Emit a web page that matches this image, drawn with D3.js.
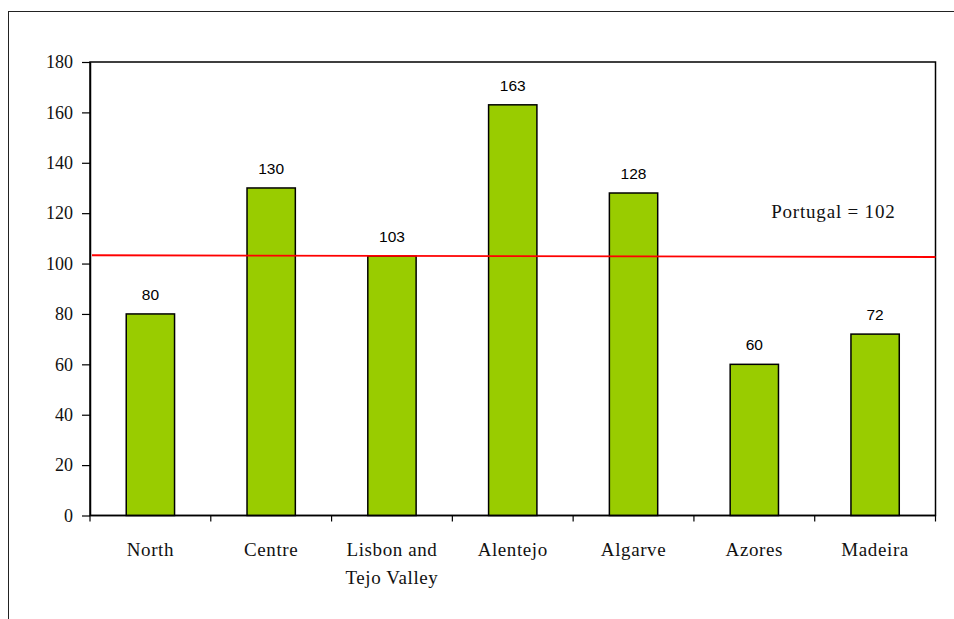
<!DOCTYPE html>
<html>
<head>
<meta charset="utf-8">
<script src="https://cdn.jsdelivr.net/npm/d3@7"></script>
<style>
  body { margin: 0; background: #fff; }
  svg { display: block; }
</style>
</head>
<body>
<div id="chart"></div>
<script>
var regions = ["North", "Centre", "Lisbon and\nTejo Valley", "Alentejo", "Algarve", "Azores", "Madeira"]
var values = [80, 130, 103, 163, 128, 60, 72]
var yTicks = [0, 20, 40, 60, 80, 100, 120, 140, 160, 180]
// the national line is drawn slightly tilted in the original
var portugalLine = [103.3, 102.6]
var portugalLabel = "Portugal = 102"

var W = 954, H = 619
var margin = {left: 90, right: 18.5, top: 62, bottom: 103.5}
var width = W - margin.left - margin.right
var height = H - margin.top - margin.bottom
var serif = "'Liberation Serif', 'Times New Roman', serif"

var svg = d3.select("#chart").append("svg")
    .attr("width", W)
    .attr("height", H)

// outer frame
svg.append("rect")
    .attr("x", 8.5).attr("y", 11.5)
    .attr("width", W).attr("height", H)
    .attr("fill", "none")
    .attr("stroke", "#222")
    .attr("stroke-width", 1)

var g = svg.append("g")
    .attr("transform", "translate(" + margin.left + "," + margin.top + ")")

var x = d3.scaleBand().domain(regions).range([0, width])
var y = d3.scaleLinear().domain([0, 180]).range([height, 0])

var barW = x.bandwidth() * 0.4

// plot frame
g.append("rect")
    .attr("width", width).attr("height", height)
    .attr("fill", "none")
    .attr("stroke", "#000")
    .attr("stroke-width", 1.5)

// bars
g.selectAll(".bar")
    .data(values)
    .enter().append("rect")
    .attr("class", "bar")
    .attr("x", function(d, i) { return x(regions[i]) + (x.bandwidth() - barW) / 2 })
    .attr("y", function(d) { return y(d) })
    .attr("width", barW)
    .attr("height", function(d) { return height - y(d) })
    .attr("fill", "#99cc00")
    .attr("stroke", "#000")
    .attr("stroke-width", 1.5)

// value labels
g.selectAll(".val")
    .data(values)
    .enter().append("text")
    .attr("class", "val")
    .attr("x", function(d, i) { return x(regions[i]) + x.bandwidth() / 2 })
    .attr("y", function(d) { return y(d) - 14 })
    .attr("text-anchor", "middle")
    .attr("fill", "#000")
    .style("font-family", "'Liberation Sans', Arial, sans-serif")
    .style("font-size", "15.5px")
    .text(function(d) { return d })

// y axis
var yAxis = g.append("g")
    .call(d3.axisLeft(y).tickValues(yTicks).tickSize(8).tickSizeOuter(0).tickPadding(9))
yAxis.select(".domain").attr("stroke-width", 1.5)
yAxis.selectAll(".tick line").attr("stroke-width", 1.2)
yAxis.selectAll("text")
    .style("font-family", serif)
    .style("font-size", "18px")
    .attr("fill", "#111")

// x axis, ticks sit between categories
var xAxis = g.append("g")
    .attr("transform", "translate(0," + height + ")")
xAxis.append("line")
    .attr("x1", 0).attr("x2", width)
    .attr("stroke", "#000").attr("stroke-width", 1.5)
xAxis.selectAll(".xtick")
    .data(d3.range(regions.length + 1))
    .enter().append("line")
    .attr("class", "xtick")
    .attr("x1", function(i) { return i * x.step() })
    .attr("x2", function(i) { return i * x.step() })
    .attr("y1", 0).attr("y2", 6)
    .attr("stroke", "#000").attr("stroke-width", 1.2)

var xl = xAxis.selectAll(".xlab")
    .data(regions)
    .enter().append("text")
    .attr("class", "xlab")
    .attr("x", function(d) { return x(d) + x.bandwidth() / 2 })
    .attr("y", 40)
    .attr("text-anchor", "middle")
    .attr("fill", "#111")
    .style("font-family", serif)
    .style("font-size", "19px")
    .style("letter-spacing", "0.6px")
xl.each(function(d) {
    var lines = d.split("\n")
    var t = d3.select(this)
    lines.forEach(function(l, k) {
        t.append("tspan")
            .attr("x", t.attr("x"))
            .attr("dy", k == 0 ? 0 : 28)
            .text(l)
    })
})

// national average line
g.append("line")
    .attr("x1", 2).attr("x2", width)
    .attr("y1", y(portugalLine[0]))
    .attr("y2", y(portugalLine[1]))
    .attr("stroke", "#ff0000")
    .attr("stroke-width", 1.8)

g.append("text")
    .attr("x", width - 40)
    .attr("y", y(118))
    .attr("text-anchor", "end")
    .attr("fill", "#111")
    .style("font-family", serif)
    .style("font-size", "19px")
    .style("letter-spacing", "0.8px")
    .text(portugalLabel)
</script>
</body>
</html>
